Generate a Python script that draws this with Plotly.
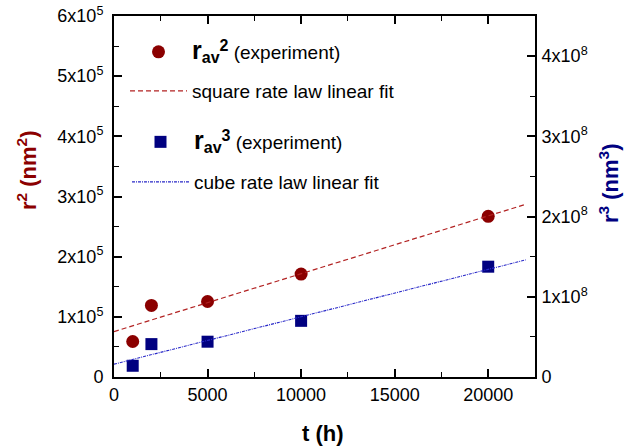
import plotly.graph_objects as go

# ---- data ----
t_exp = [1000, 2000, 5000, 10000, 20000]
r2_exp = [5.9e4, 1.19e5, 1.255e5, 1.71e5, 2.67e5]
r3_exp = [1.4e7, 4.1e7, 4.4e7, 7.0e7, 1.375e8]
fit_t = [0, 22000]
fit_r2 = [7.55e4, 2.87e5]
fit_r3 = [1.6e7, 1.46e8]

x_ticks = [0, 5000, 10000, 15000, 20000]
x_text = ["0", "5000", "10000", "15000", "20000"]
y1_ticks = [0, 1e5, 2e5, 3e5, 4e5, 5e5, 6e5]
y1_text = ["0"] + [f"{i}x10<sup>5</sup>" for i in range(1, 7)]
y2_ticks = [0, 1e8, 2e8, 3e8, 4e8]
y2_text = ["0"] + [f"{i}x10<sup>8</sup>" for i in range(1, 5)]

RED = "#8b0000"
NAVY = "#000080"
FONT = "Liberation Sans, Arial, sans-serif"

W, H = 626, 448
L, R, T, B = 114, 91, 16, 71
pw, ph = W - L - R, H - T - B

def px_x(p):
    return (p - L) / pw

def px_y(p):
    return (H - B - p) / ph

fig = go.Figure()
fig.add_trace(go.Scatter(
    x=t_exp, y=r2_exp, mode="markers", yaxis="y", legend="legend",
    marker=dict(symbol="circle", size=13, color=RED),
    name="<span style='font-size:25px'><b>r</b></span><sub><span style='font-size:16px'><b>av</b></span></sub><sup><span style='font-size:16px'><b>2</b></span></sup> (experiment)"))
fig.add_trace(go.Scatter(
    x=fit_t, y=fit_r2, mode="lines", yaxis="y", legend="legend2",
    line=dict(color="#b22222", width=1.2, dash="5px,3px"),
    name="square rate law linear fit"))
fig.add_trace(go.Scatter(
    x=t_exp, y=r3_exp, mode="markers", yaxis="y2", legend="legend3",
    marker=dict(symbol="square", size=12, color=NAVY),
    name="<span style='font-size:25px'><b>r</b></span><sub><span style='font-size:16px'><b>av</b></span></sub><sup><span style='font-size:16px'><b>3</b></span></sup> (experiment)"))
fig.add_trace(go.Scatter(
    x=fit_t, y=fit_r3, mode="lines", yaxis="y2", legend="legend4",
    line=dict(color="#2828c8", width=1.1, dash="3px,1px,1px,1px"),
    name="cube rate law linear fit"))

tickfont = dict(family=FONT, size=18, color="black")
axcommon = dict(showgrid=False, zeroline=False, showline=True, linecolor="black",
                linewidth=2, ticks="inside", ticklen=8, tickwidth=1.5,
                tickcolor="black", tickfont=tickfont, automargin=False)

fig.update_layout(
    width=W, height=H,
    margin=dict(l=L, r=R, t=T, b=B, autoexpand=False),
    showlegend=True,
    paper_bgcolor="white", plot_bgcolor="white",
    font=dict(family=FONT, size=19, color="black"),
    xaxis=dict(range=[0, 22500], tickmode="array", tickvals=x_ticks, ticktext=x_text,
               mirror="ticks", ticklabelstandoff=0,
               minor=dict(tickmode="linear", tick0=0, dtick=2500, ticks="inside",
                          ticklen=5, tickcolor="black", tickwidth=1.2),
               **axcommon),
    yaxis=dict(range=[0, 6e5], tickmode="array", tickvals=y1_ticks, ticktext=y1_text,
               ticklabelstandoff=5,
               minor=dict(tickmode="linear", tick0=0, dtick=5e4, ticks="inside",
                          ticklen=5, tickcolor="black", tickwidth=1.2),
               **axcommon),
    yaxis2=dict(range=[0, 4.5e8], overlaying="y", side="right", tickmode="array",
                tickvals=y2_ticks, ticktext=y2_text, ticklabelstandoff=1,
                minor=dict(tickmode="linear", tick0=0, dtick=5e7, ticks="inside",
                           ticklen=5, tickcolor="black", tickwidth=1.2),
                **axcommon),
    annotations=[
        dict(text="<b>t (h)</b>", xref="paper", yref="paper",
             x=px_x(323), y=px_y(433), xanchor="center", yanchor="middle",
             showarrow=False, font=dict(family=FONT, size=22, color="black")),
        dict(text="<b>r<sup>2</sup> (nm<sup>2</sup>)</b>", xref="paper", yref="paper",
             x=px_x(27), y=px_y(171), xanchor="center", yanchor="middle",
             textangle=-90, showarrow=False,
             font=dict(family=FONT, size=22, color=RED)),
        dict(text="<b>r<sup>3</sup> (nm<sup>3</sup>)</b>", xref="paper", yref="paper",
             x=px_x(609), y=px_y(184), xanchor="center", yanchor="middle",
             textangle=-90, showarrow=False,
             font=dict(family=FONT, size=22, color=NAVY)),
    ],
)

leg = dict(bgcolor="rgba(0,0,0,0)", borderwidth=0, itemwidth=57,
           font=dict(family=FONT, size=19, color="black"),
           xanchor="left", yanchor="middle", xref="paper", yref="paper")
fig.update_layout(
    legend=dict(x=px_x(125), y=px_y(52), **leg),
    legend2=dict(x=px_x(125), y=px_y(91), **leg),
    legend3=dict(x=px_x(127), y=px_y(142), **leg),
    legend4=dict(x=px_x(127), y=px_y(182), **leg),
)

fig.write_html("out.html")
